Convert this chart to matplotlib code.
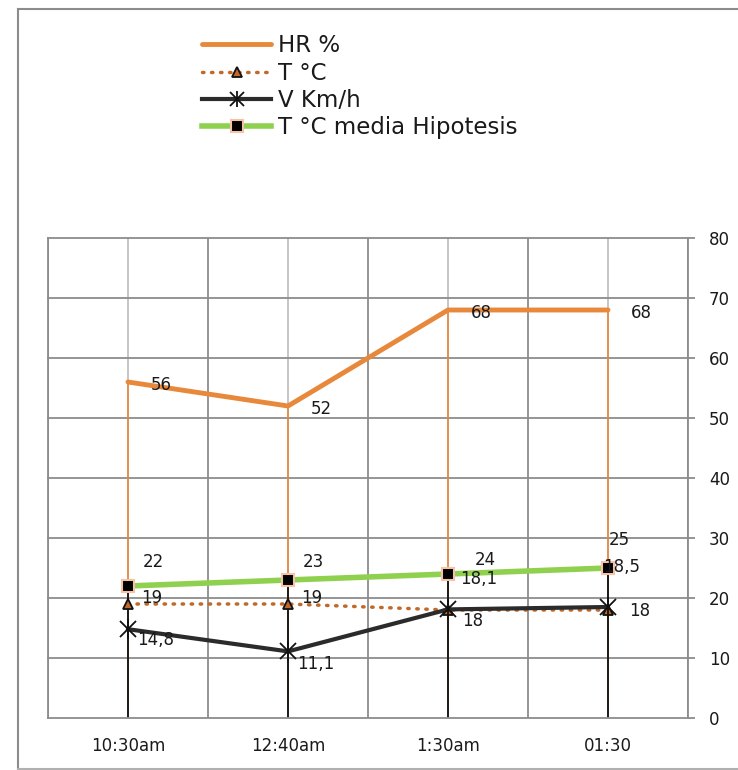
import matplotlib.pyplot as plt
from matplotlib.lines import Line2D

plt.rcParams['font.family'] = ['DejaVu Sans']

times = ['10:30am', '12:40am', '1:30am', '01:30']
hr = [56, 52, 68, 68]
temp = [19, 19, 18, 18]
vel = [14.8, 11.1, 18.1, 18.5]
temp_media = [22, 23, 24, 25]

# label offsets in points (dx, dy)
hr_off = [(24, -2), (24, -2), (24, -2), (24, -2)]
temp_off = [(17, 4), (17, 4), (18, -8), (23, -1)]
vel_off = [(20, -8), (20, -9), (22, 22), (10, 29)]
media_off = [(18, 17), (18, 13), (27, 10), (8, 20)]

def fmt(v):
    return ('%g' % v).replace('.', ',')

orange = '#e8883a'
brown = '#c0692a'
dark = '#2b2b2b'
green = '#8fd14f'

fig = plt.figure(figsize=(7.38, 7.70), dpi=100)
W, H = 738, 770
# outer chart border (top, left, bottom)
border = dict(color='#8c8c8c', lw=1.5, transform=fig.transFigure)
fig.add_artist(Line2D([18 / W, 1], [1 - 8.5 / H] * 2, **border))
fig.add_artist(Line2D([18 / W] * 2, [1 - 8.5 / H, 1.5 / H], **border))
fig.add_artist(Line2D([18 / W, 1], [1.5 / H] * 2, color='#b0b0b0', lw=1.5,
                      transform=fig.transFigure))

ax = fig.add_axes([48 / W, (H - 718) / H, 640 / W, 480 / H])

x = list(range(len(times)))
ax.set_xlim(-0.5, len(times) - 0.5)
ax.set_ylim(0, 80)

# grid
for b in [i - 0.5 for i in range(len(times) + 1)]:
    ax.axvline(b, color='#8c8c8c', lw=1.3, zorder=0)
for c in x:
    ax.axvline(c, color='#c0c0c0', lw=1.3, zorder=0)
for yv in range(10, 81, 10):
    ax.axhline(yv, color='#8c8c8c', lw=1.3, zorder=0, clip_on=False)

# drop lines
ax.vlines(x, 0, hr, color=orange, lw=1.2, zorder=1)
ax.vlines(x, 0, temp_media, color='#111111', lw=1.3, zorder=2)

ax.plot(x, hr, color=orange, lw=3.5, solid_capstyle='round', zorder=3)
ax.plot(x, temp, color=brown, lw=2.5, ls=(0, (0.4, 2.2)), dash_capstyle='round',
        marker='^', ms=7, mfc=brown, mec='#111111', mew=1.3, zorder=4)
ax.plot(x, vel, color=dark, lw=3, marker='x', ms=12, mec='#111111', mew=1.3, zorder=5)
ax.plot(x, vel, ls='none', marker='|', ms=14, mec='#111111', mew=1.3, zorder=5)
ax.plot(x, temp_media, color=green, lw=4, marker='s', ms=8, mfc='black',
        mec='#f7c3a8', mew=1.5, zorder=6)

for series, offs in [(hr, hr_off), (temp, temp_off), (vel, vel_off), (temp_media, media_off)]:
    for xi, v, o in zip(x, series, offs):
        ax.annotate(fmt(v), (xi, v), xytext=o, textcoords='offset points',
                    ha='center', va='center', fontsize=12, color='#1a1a1a', zorder=7)

ax.set_xticks(x)
ax.set_xticklabels(times, fontsize=12, color='#1a1a1a')
ax.yaxis.tick_right()
ax.set_yticks(range(0, 81, 10))
ax.tick_params(axis='y', length=5, width=1.3, color='#8c8c8c', labelsize=12,
               labelcolor='#1a1a1a', pad=10)
ax.tick_params(axis='x', length=0, pad=14)
for s in ax.spines.values():
    s.set_color('#8c8c8c')
    s.set_linewidth(1.3)
ax.spines['top'].set_visible(False)

v_line = Line2D([], [], color=dark, lw=3, marker='x', ms=10, mec='#111111', mew=1.3)
v_bar = Line2D([], [], ls='none', marker='|', ms=12, mec='#111111', mew=1.3)
handles = [
    Line2D([], [], color=orange, lw=3.5, solid_capstyle='round'),
    Line2D([], [], color=brown, lw=2.5, ls=(0, (0.4, 2.2)), dash_capstyle='round',
           marker='^', ms=7, mfc=brown, mec='#111111', mew=1.3),
    (v_line, v_bar),
    Line2D([], [], color=green, lw=4, marker='s', ms=8, mfc='black', mec='#f7c3a8', mew=1.5),
]
labels = ['HR %', 'T °C', 'V Km/h', 'T °C media Hipotesis']
fig.legend(handles, labels, loc='upper left', bbox_to_anchor=(191 / W, 1 - 23 / H),
           frameon=False, fontsize=16.5, handlelength=3.0, handletextpad=0.3,
           labelspacing=0.18, borderpad=0, labelcolor='#1a1a1a')

fig.savefig('out.png', dpi=100)
